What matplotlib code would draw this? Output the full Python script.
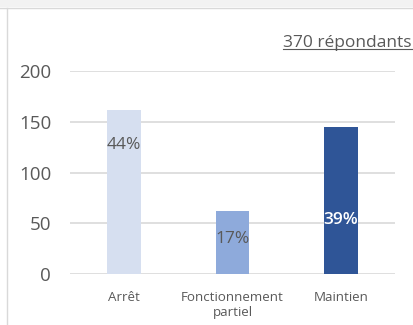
import matplotlib.pyplot as plt
from matplotlib.lines import Line2D
from matplotlib.patches import Rectangle

# données
categories = ["Arrêt", "Fonctionnement\npartiel", "Maintien"]
counts = [162, 62, 145]
total = 370
label_y = [127, 34, 53]
colors = ["#d6dff0", "#8eaadb", "#2f5597"]
label_colors = ["#595959", "#595959", "#ffffff"]

plt.rcParams['font.family'] = ['Open Sans', 'DejaVu Sans']

fig = plt.figure(figsize=(4.14, 3.25), dpi=100)
fig.patch.set_facecolor("white")

# bandeau gris en haut + bordure gauche
fig.patches.append(Rectangle((0, 1 - 7 / 325), 1, 7 / 325, transform=fig.transFigure,
                             facecolor="#f2f2f2", edgecolor="none"))
fig.lines.append(Line2D([0, 1], [1 - 7.5 / 325] * 2, transform=fig.transFigure,
                        color="#d9d9d9", lw=1))
fig.lines.append(Line2D([7.5 / 414] * 2, [0, 1 - 7.5 / 325], transform=fig.transFigure,
                        color="#d9d9d9", lw=1))

ax = fig.add_axes([70 / 414, 51 / 325, 325 / 414, 203 / 325])
x = range(len(categories))
ax.bar(x, counts, width=0.31, color=colors, zorder=2)

for i, v in enumerate(counts):
    pct = round(v / total * 100)
    ax.text(i, label_y[i], f"{pct}%", ha="center", va="center", fontsize=12.5,
            color=label_colors[i], fontweight="semibold" if i == 2 else "normal",
            zorder=3)

ax.set_ylim(0, 200)
ax.set_xlim(-0.5, 2.5)
ax.set_yticks([0, 50, 100, 150, 200])
ax.yaxis.grid(True, color="#d9d9d9", lw=1.2, zorder=0)
ax.set_axisbelow(True)
for s in ax.spines.values():
    s.set_visible(False)
ax.tick_params(axis="y", length=0, pad=13.5, labelsize=13.5, labelcolor="#595959")
ax.tick_params(axis="x", length=0, pad=12, labelsize=9.6, labelcolor="#595959")
ax.set_xticks(list(x))
ax.set_xticklabels(categories, linespacing=1.25)

# titre souligné
t = fig.text(412 / 414, 1 - 43 / 325, "370 répondants", ha="right", va="center",
             fontsize=12.5, color="#595959")
fig.canvas.draw()
bb = t.get_window_extent().transformed(fig.transFigure.inverted())
fig.lines.append(Line2D([bb.x0, bb.x1], [bb.y0 + 0.006] * 2, transform=fig.transFigure,
                        color="#595959", lw=0.8))

fig.savefig("out.png", dpi=100)
